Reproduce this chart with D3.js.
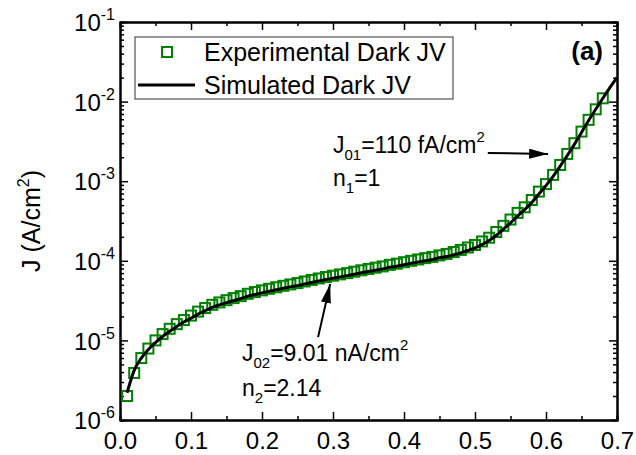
<!DOCTYPE html>
<html>
<head>
<meta charset="utf-8">
<script src="https://cdn.jsdelivr.net/npm/d3@7"></script>
<style>
  body { margin: 0; background: #fff; }
  svg { display: block; font-family: "Liberation Sans", Arial, sans-serif; }
</style>
</head>
<body>
<div id="chart"></div>
<script>
const w = 636;
const h = 455;
const margin = { top: 22, right: 19, bottom: 35, left: 120 };
const innerW = w - margin.left - margin.right;
const innerH = h - margin.top - margin.bottom;

// experimental dark JV (squares)
const expV = [0.01, 0.02, 0.03, 0.04, 0.05, 0.06, 0.07, 0.08, 0.09, 0.10,
  0.11, 0.12, 0.13, 0.14, 0.15, 0.16, 0.17, 0.18, 0.19, 0.20,
  0.21, 0.22, 0.23, 0.24, 0.25, 0.26, 0.27, 0.28, 0.29, 0.30,
  0.31, 0.32, 0.33, 0.34, 0.35, 0.36, 0.37, 0.38, 0.39, 0.40,
  0.41, 0.42, 0.43, 0.44, 0.45, 0.46, 0.47, 0.48, 0.49, 0.50,
  0.51, 0.52, 0.53, 0.54, 0.55, 0.56, 0.57, 0.58, 0.59, 0.60,
  0.61, 0.62, 0.63, 0.64, 0.65, 0.66, 0.67, 0.68];
const expJ = [2.0e-6, 3.9e-6, 6.0e-6, 7.9e-6, 1.0e-5, 1.2e-5, 1.4e-5, 1.6e-5, 1.8e-5, 2.05e-5,
  2.3e-5, 2.55e-5, 2.8e-5, 3.0e-5, 3.2e-5, 3.4e-5, 3.6e-5, 3.85e-5, 4.05e-5, 4.25e-5,
  4.45e-5, 4.65e-5, 4.85e-5, 5.05e-5, 5.25e-5, 5.5e-5, 5.75e-5, 6.0e-5, 6.25e-5, 6.5e-5,
  6.75e-5, 7.0e-5, 7.3e-5, 7.6e-5, 7.9e-5, 8.2e-5, 8.5e-5, 8.9e-5, 9.2e-5, 9.6e-5,
  1.0e-4, 1.04e-4, 1.08e-4, 1.12e-4, 1.17e-4, 1.22e-4, 1.29e-4, 1.37e-4, 1.47e-4, 1.58e-4,
  1.75e-4, 1.95e-4, 2.3e-4, 2.75e-4, 3.3e-4, 4.0e-4, 4.7e-4, 5.8e-4, 7.4e-4, 9.2e-4,
  1.2e-3, 1.6e-3, 2.2e-3, 3.0e-3, 4.2e-3, 5.9e-3, 8.0e-3, 1.1e-2];

// simulated dark JV (line)
const simV = [0.01, 0.02, 0.03, 0.04, 0.05, 0.06, 0.07, 0.08, 0.09, 0.10,
  0.11, 0.12, 0.13, 0.14, 0.15, 0.16, 0.17, 0.18, 0.19, 0.20,
  0.21, 0.22, 0.23, 0.24, 0.25, 0.26, 0.27, 0.28, 0.29, 0.30,
  0.31, 0.32, 0.33, 0.34, 0.35, 0.36, 0.37, 0.38, 0.39, 0.40,
  0.41, 0.42, 0.43, 0.44, 0.45, 0.46, 0.47, 0.48, 0.49, 0.50,
  0.51, 0.52, 0.53, 0.54, 0.55, 0.56, 0.57, 0.58, 0.59, 0.60,
  0.61, 0.62, 0.63, 0.64, 0.65, 0.66, 0.67, 0.68, 0.69, 0.70];
const simJ = [2.2e-6, 4.2e-6, 6.0e-6, 7.7e-6, 9.4e-6, 1.12e-5, 1.3e-5, 1.5e-5, 1.7e-5, 1.9e-5,
  2.14e-5, 2.37e-5, 2.6e-5, 2.79e-5, 2.98e-5, 3.16e-5, 3.35e-5, 3.58e-5, 3.77e-5, 3.95e-5,
  4.14e-5, 4.32e-5, 4.51e-5, 4.7e-5, 4.88e-5, 5.1e-5, 5.35e-5, 5.58e-5, 5.81e-5, 6.05e-5,
  6.28e-5, 6.51e-5, 6.79e-5, 7.07e-5, 7.35e-5, 7.63e-5, 7.9e-5, 8.28e-5, 8.56e-5, 8.93e-5,
  9.3e-5, 9.67e-5, 1.0e-4, 1.04e-4, 1.09e-4, 1.13e-4, 1.19e-4, 1.26e-4, 1.35e-4, 1.45e-4,
  1.6e-4, 1.8e-4, 2.08e-4, 2.5e-4, 3.0e-4, 3.65e-4, 4.4e-4, 5.4e-4, 6.9e-4, 8.8e-4,
  1.15e-3, 1.55e-3, 2.1e-3, 2.9e-3, 4.1e-3, 5.8e-3, 8.0e-3, 1.1e-2, 1.5e-2, 2.0e-2];

const xTicks = [0.0, 0.1, 0.2, 0.3, 0.4, 0.5, 0.6, 0.7];
const xMinor = [0.05, 0.15, 0.25, 0.35, 0.45, 0.55, 0.65];
const yExps = [-6, -5, -4, -3, -2, -1];

const yTicks = yExps.map((e) => Math.pow(10, e));
let yMinor = [];
for (let i = 0; i < yExps.length - 1; i++) {
  for (let k = 2; k <= 9; k++) yMinor.push(k * Math.pow(10, yExps[i]));
}

const svg = d3
  .select("#chart")
  .append("svg")
  .attr("width", w)
  .attr("height", h);

const g = svg
  .append("g")
  .attr("transform", `translate(${margin.left},${margin.top})`);

const x = d3.scaleLinear().domain([0, 0.7]).range([0, innerW]);
const y = d3.scaleLog().domain([1e-6, 1e-1]).range([innerH, 0]);

const styleAxis = function (sel) {
  sel.select(".domain").attr("stroke", "#000").attr("stroke-width", 2);
  sel.selectAll(".tick line").attr("stroke", "#000").attr("stroke-width", 1.5);
};

// bottom axis with labels
const xAxisB = g
  .append("g")
  .attr("transform", `translate(0,${innerH})`)
  .call(
    d3.axisBottom(x).tickValues(xTicks).tickSizeInner(-8).tickSizeOuter(0)
      .tickFormat(d3.format(".1f"))
  )
  .call(styleAxis);
xAxisB
  .selectAll(".tick text")
  .attr("y", 29)
  .attr("dy", 0)
  .attr("fill", "#000")
  .attr("font-size", 24);
g.append("g")
  .attr("transform", `translate(0,${innerH})`)
  .call(d3.axisBottom(x).tickValues(xMinor).tickSize(-4).tickFormat(""))
  .call(styleAxis);

// top axis (mirror)
g.append("g")
  .call(d3.axisTop(x).tickValues(xTicks).tickSizeInner(-8).tickSizeOuter(0).tickFormat(""))
  .call(styleAxis);
g.append("g")
  .call(d3.axisTop(x).tickValues(xMinor).tickSize(-4).tickFormat(""))
  .call(styleAxis);

// left axis with 10^n labels
const yAxisL = g
  .append("g")
  .call(d3.axisLeft(y).tickValues(yTicks).tickSizeInner(-8).tickSizeOuter(0).tickFormat(""))
  .call(styleAxis);
yAxisL.selectAll(".tick").each(function (d) {
  const t = d3
    .select(this)
    .select("text")
    .attr("x", -5)
    .attr("dy", "0.36em")
    .attr("fill", "#000")
    .attr("font-size", 24)
    .attr("text-anchor", "end");
  t.append("tspan").text("10");
  t.append("tspan")
    .attr("font-size", 16)
    .attr("dy", -11)
    .text(Math.round(Math.log10(d)));
});
g.append("g")
  .call(d3.axisLeft(y).tickValues(yMinor).tickSize(-4).tickFormat(""))
  .call(styleAxis);

// right axis (mirror)
g.append("g")
  .attr("transform", `translate(${innerW},0)`)
  .call(d3.axisRight(y).tickValues(yTicks).tickSizeInner(-8).tickSizeOuter(0).tickFormat(""))
  .call(styleAxis);
g.append("g")
  .attr("transform", `translate(${innerW},0)`)
  .call(d3.axisRight(y).tickValues(yMinor).tickSize(-4).tickFormat(""))
  .call(styleAxis);

// y axis title
svg
  .append("text")
  .attr("transform", `translate(40,${margin.top + innerH / 2}) rotate(-90)`)
  .attr("text-anchor", "middle")
  .attr("font-size", 25)
  .attr("fill", "#000")
  .call((t) => {
    t.append("tspan").text("J (A/cm");
    t.append("tspan").attr("font-size", 16).attr("dy", -11).text("2");
    t.append("tspan").attr("dy", 11).text(")");
  });

// experimental squares
const expData = expV.map((v, i) => ({ v: v, j: expJ[i] }));
const sq = 10;
g.selectAll("rect.exp")
  .data(expData)
  .enter()
  .append("rect")
  .attr("class", "exp")
  .attr("x", (d) => x(d.v) - sq / 2)
  .attr("y", (d) => y(d.j) - sq / 2)
  .attr("width", sq)
  .attr("height", sq)
  .attr("fill", "none")
  .attr("stroke", "#008000")
  .attr("stroke-width", 2);

// simulated line
const simData = simV.map((v, i) => ({ v: v, j: simJ[i] }));
const line = d3
  .line()
  .x((d) => x(d.v))
  .y((d) => y(d.j))
  .curve(d3.curveMonotoneX);
g.append("path")
  .datum(simData)
  .attr("d", line)
  .attr("fill", "none")
  .attr("stroke", "#000")
  .attr("stroke-width", 3);

// legend
const legend = svg.append("g");
legend
  .append("rect")
  .attr("x", 135)
  .attr("y", 37)
  .attr("width", 318)
  .attr("height", 62)
  .attr("fill", "#fff")
  .attr("stroke", "#333")
  .attr("stroke-width", 1);
legend
  .append("rect")
  .attr("x", 162)
  .attr("y", 47)
  .attr("width", 10)
  .attr("height", 10)
  .attr("fill", "none")
  .attr("stroke", "#008000")
  .attr("stroke-width", 2);
legend
  .append("line")
  .attr("x1", 138)
  .attr("x2", 195)
  .attr("y1", 85)
  .attr("y2", 85)
  .attr("stroke", "#000")
  .attr("stroke-width", 3);
legend
  .append("text")
  .attr("x", 204)
  .attr("y", 61)
  .attr("font-size", 25)
  .text("Experimental Dark JV");
legend
  .append("text")
  .attr("x", 204)
  .attr("y", 94)
  .attr("font-size", 25)
  .text("Simulated Dark JV");

// panel label
svg
  .append("text")
  .attr("x", 603)
  .attr("y", 60)
  .attr("text-anchor", "end")
  .attr("font-size", 26)
  .attr("font-weight", "bold")
  .text("(a)");

// annotations
const subText = function (sel, main, sub, rest, sup) {
  sel.append("tspan").text(main);
  sel.append("tspan").attr("font-size", 15).attr("dy", 7).text(sub);
  sel.append("tspan").attr("dy", -7).text(rest);
  if (sup) sel.append("tspan").attr("font-size", 15).attr("dy", -11).text(sup);
};

svg.append("text").attr("x", 333).attr("y", 153).attr("font-size", 23)
  .call((t) => subText(t, "J", "01", "=110 fA/cm", "2"));
svg.append("text").attr("x", 333).attr("y", 186).attr("font-size", 23)
  .call((t) => subText(t, "n", "1", "=1"));
svg.append("text").attr("x", 242).attr("y", 361).attr("font-size", 23)
  .call((t) => subText(t, "J", "02", "=9.01 nA/cm", "2"));
svg.append("text").attr("x", 242).attr("y", 396).attr("font-size", 23)
  .call((t) => subText(t, "n", "2", "=2.14"));

svg
  .append("defs")
  .append("marker")
  .attr("id", "arrow")
  .attr("viewBox", "0 0 10 10")
  .attr("preserveAspectRatio", "none")
  .attr("refX", 10)
  .attr("refY", 5)
  .attr("markerWidth", 19)
  .attr("markerHeight", 10)
  .attr("markerUnits", "userSpaceOnUse")
  .attr("orient", "auto")
  .append("path")
  .attr("d", "M0,0 L10,5 L0,10 Z")
  .attr("fill", "#000");

const arrows = [
  { v1: 0.518, j1: 2.26e-3, v2: 0.603, j2: 2.2e-3 },
  { v1: 0.279, j1: 1.1e-5, v2: 0.296, j2: 5.1e-5 },
];
g.selectAll("line.arrow")
  .data(arrows)
  .enter()
  .append("line")
  .attr("class", "arrow")
  .attr("x1", (d) => x(d.v1))
  .attr("y1", (d) => y(d.j1))
  .attr("x2", (d) => x(d.v2))
  .attr("y2", (d) => y(d.j2))
  .attr("stroke", "#000")
  .attr("stroke-width", 2)
  .attr("marker-end", "url(#arrow)");
</script>
</body>
</html>
